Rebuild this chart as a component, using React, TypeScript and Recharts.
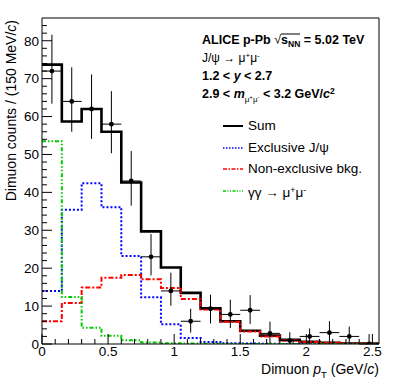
import React from 'react';
import { ComposedChart, Line, Scatter, ErrorBar, XAxis, YAxis, ReferenceLine, Legend } from 'recharts';

// bin edges (GeV/c), 150 MeV/c bins
const binEdges = [0, 0.15, 0.3, 0.45, 0.6, 0.75, 0.9, 1.05, 1.2, 1.35, 1.5, 1.65, 1.8, 1.95, 2.1, 2.25, 2.4, 2.55];
// template histograms (per bin)
const sumValues = [73.7, 58.7, 62.0, 56.0, 42.6, 29.7, 20.2, 13.5, 9.4, 6.0, 3.5, 2.2, 1.1, 0.6, 0.3, 0.15, 0.1];
const exclusiveValues = [14.0, 35.4, 42.4, 36.1, 23.2, 12.3, 5.2, 1.6, 0.5, 0.2, 0.1, 0.05, 0.03, 0.02, 0.01, 0.01, 0.01];
const nonExclusiveValues = [6.0, 10.8, 14.9, 17.5, 18.2, 17.1, 14.8, 11.9, 9.1, 5.9, 3.3, 2.0, 0.9, 0.5, 0.3, 0.15, 0.1];
const gammaGammaValues = [53.5, 12.4, 4.3, 2.2, 1.0, 0.4, 0.2, 0.1, 0.05, 0.03, 0.02, 0.01, 0.01, 0.01, 0.01, 0.01, 0.01];

// measured data points
const pointCenters = [0.075, 0.225, 0.375, 0.525, 0.675, 0.825, 0.975, 1.125, 1.275, 1.425, 1.575, 1.725, 1.875, 2.025, 2.175, 2.325, 2.475];
const pointCounts = [72, 64, 62, 58, 43, 23, 14, 6, 9.3, 7.8, 8.9, 2.8, 0.9, 2.0, 3.0, 2.0, 0];
const pointErrLow = [8.6, 8.0, 7.9, 7.7, 6.5, 4.9, 3.9, 3.0, 3.9, 3.6, 3.6, 2.6, 0.9, 2.0, 2.8, 2.0, 0];
const pointErrHigh = [9.6, 9.0, 9.1, 8.7, 7.9, 6.0, 4.8, 3.3, 3.7, 3.9, 4.0, 3.1, 2.2, 2.1, 3.0, 2.6, 2.6];
const pointHalfWidth = 0.075;

const xTicks = [0, 0.1, 0.2, 0.3, 0.4, 0.5, 0.6, 0.7, 0.8, 0.9, 1, 1.1, 1.2, 1.3, 1.4, 1.5, 1.6, 1.7, 1.8, 1.9, 2, 2.1, 2.2, 2.3, 2.4, 2.5];
const xMajorLabels = ['0', '0.5', '1', '1.5', '2', '2.5'];
const yTicks = [0, 2, 4, 6, 8, 10, 12, 14, 16, 18, 20, 22, 24, 26, 28, 30, 32, 34, 36, 38, 40, 42, 44, 46, 48, 50, 52, 54, 56, 58, 60, 62, 64, 66, 68, 70, 72, 74, 76, 78, 80, 82, 84];

// legend entries (order as in the figure)
const legendNames = ['Sum', 'Exclusive J/ψ', 'Non-exclusive bkg.', 'γγ → μ+μ-'];
const legendDashes = ['', '1.5 1.5', '4 1.5 1.5 1.5', '3 1.5 1 1.5 1 1.5'];
const legendWidths = [2, 1.5, 1.5, 1.5];

const FONT = "'Liberation Sans', Arial, Helvetica, sans-serif";

const histRows = binEdges.map((e, i) => {
  const k = Math.min(i, sumValues.length - 1);
  return {
    x: e,
    sum: sumValues[k],
    excl: exclusiveValues[k],
    nonexcl: nonExclusiveValues[k],
    gg: gammaGammaValues[k],
  };
});

const pointRows = pointCenters.map((c, i) => ({
  x: c,
  y: pointCounts[i],
  yerr: [pointErrLow[i], pointErrHigh[i]],
  xerr: pointHalfWidth,
}));

const XTick = (props: any) => {
  const { x, y, payload } = props;
  const v = payload.value as number;
  const major = Math.abs(v * 2 - Math.round(v * 2)) < 1e-6;
  const idx = Math.round(v * 2);
  return (
    <g>
      <line x1={x} x2={x} y1={y} y2={y - (major ? 10 : 5)} stroke="#000" strokeWidth={1} />
      {major && (
        <text x={x} y={y + 12} textAnchor="middle" fontSize={13.5} fontFamily={FONT} fill="#000">
          {xMajorLabels[idx]}
        </text>
      )}
    </g>
  );
};

const YTick = (props: any) => {
  const { x, y, payload } = props;
  const v = payload.value as number;
  const major = v % 10 === 0;
  return (
    <g>
      <line x1={x} x2={x + (major ? 10 : 5)} y1={y} y2={y} stroke="#000" strokeWidth={1} />
      {major && (
        <text x={x - 3} y={y + 4.8} textAnchor="end" fontSize={13.5} fontFamily={FONT} fill="#000">
          {String(v)}
        </text>
      )}
    </g>
  );
};

const PointShape = (props: any) => {
  const { cx, cy } = props;
  if (cx == null || cy == null) return null;
  return <circle cx={cx} cy={cy} r={2.4} fill="#000" />;
};

const renderLegendLabel = (name: string) => {
  if (name.includes('μ+μ-')) {
    const [pre] = name.split('μ+μ-');
    return (
      <span>
        {pre}μ<sup style={{ fontSize: '0.65em', verticalAlign: '0.45em' }}>+</sup>μ
        <sup style={{ fontSize: '0.65em', verticalAlign: '0.45em' }}>-</sup>
      </span>
    );
  }
  return <span>{name}</span>;
};

const LegendContent = (props: any) => {
  const { payload } = props;
  const entries = (payload || []).filter((e: any) => legendNames.includes(e.value));
  entries.sort((a: any, b: any) => legendNames.indexOf(a.value) - legendNames.indexOf(b.value));
  return (
    <div
      style={{
        position: 'absolute',
        left: 222,
        top: 115,
        fontFamily: FONT,
        fontSize: 13.5,
        color: '#000',
        whiteSpace: 'nowrap',
      }}
    >
      {entries.map((entry: any) => {
        const k = legendNames.indexOf(entry.value);
        return (
          <div key={entry.value} style={{ display: 'flex', alignItems: 'center', height: 21.8, lineHeight: '14px' }}>
            <svg width={22} height={8} style={{ display: 'block' }}>
              <line
                x1={1}
                x2={21}
                y1={4}
                y2={4}
                stroke={entry.color}
                strokeWidth={legendWidths[k]}
                strokeDasharray={legendDashes[k] || undefined}
              />
            </svg>
            <span style={{ marginLeft: 4 }}>{renderLegendLabel(entry.value)}</span>
          </div>
        );
      })}
    </div>
  );
};

export default function App() {
  return (
    <div style={{ position: 'absolute', left: 0, top: 0, width: 399, height: 386, background: '#fff' }}>
      <ComposedChart width={399} height={386} margin={{ top: 18, right: 20, left: 0, bottom: 0 }}>
        <XAxis
          dataKey="x"
          type="number"
          domain={[0, 2.55]}
          ticks={xTicks}
          interval={0}
          allowDataOverflow
          height={42}
          tickSize={0}
          tickMargin={0}
          tickLine={false}
          axisLine={{ stroke: '#000', strokeWidth: 1 }}
          tick={<XTick />}
        />
        <YAxis
          type="number"
          domain={[0, 86]}
          ticks={yTicks}
          interval={0}
          allowDataOverflow
          width={42}
          tickSize={0}
          tickMargin={0}
          tickLine={false}
          axisLine={{ stroke: '#000', strokeWidth: 1 }}
          tick={<YTick />}
        />
        <ReferenceLine y={86} stroke="#000" strokeWidth={1} />
        <ReferenceLine x={2.55} stroke="#000" strokeWidth={1} />
        <Line
          data={histRows}
          dataKey="sum"
          name="Sum"
          type="stepAfter"
          stroke="#000"
          strokeWidth={2.6}
          dot={false}
          activeDot={false}
          isAnimationActive={false}
        />
        <Line
          data={histRows}
          dataKey="excl"
          name="Exclusive J/ψ"
          type="stepAfter"
          stroke="#0000ff"
          strokeWidth={2}
          strokeDasharray="2 2"
          dot={false}
          activeDot={false}
          isAnimationActive={false}
        />
        <Line
          data={histRows}
          dataKey="nonexcl"
          name="Non-exclusive bkg."
          type="stepAfter"
          stroke="#ff0000"
          strokeWidth={2}
          strokeDasharray="5 2 2 2"
          dot={false}
          activeDot={false}
          isAnimationActive={false}
        />
        <Line
          data={histRows}
          dataKey="gg"
          name="γγ → μ+μ-"
          type="stepAfter"
          stroke="#00cc00"
          strokeWidth={2}
          strokeDasharray="4 2 1.5 2 1.5 2"
          dot={false}
          activeDot={false}
          isAnimationActive={false}
        />
        <Scatter
          data={pointRows}
          dataKey="y"
          name="Data"
          legendType="none"
          shape={<PointShape />}
          isAnimationActive={false}
        >
          <ErrorBar dataKey="yerr" direction="y" width={0} stroke="#000" strokeWidth={1} />
          <ErrorBar dataKey="xerr" direction="x" width={0} stroke="#000" strokeWidth={1} />
        </Scatter>
        <Legend
          layout="vertical"
          verticalAlign="middle"
          align="center"
          content={<LegendContent />}
          wrapperStyle={{ position: 'absolute', left: 0, top: 0, width: 0, height: 0 }}
        />
      </ComposedChart>
      <svg
        width={399}
        height={386}
        style={{ position: 'absolute', left: 0, top: 0, pointerEvents: 'none' }}
        fontFamily={FONT}
      >
        <text x={16} y={20} transform="rotate(-90 16 20)" textAnchor="end" fontSize={14} fill="#000">
          Dimuon counts / (150 MeV/<tspan fontStyle="italic">c</tspan>)
        </text>
        <text x={379} y={374} textAnchor="end" fontSize={14} fill="#000">
          Dimuon <tspan fontStyle="italic">p</tspan>
          <tspan fontSize={9.5} dy={4}>T</tspan>
          <tspan dy={-4}> (GeV/</tspan>
          <tspan fontStyle="italic">c</tspan>)
        </text>
        <text x={202} y={44} fontSize={12.5} fontWeight="bold" fill="#000">
          ALICE p-Pb <tspan fontWeight="normal">√</tspan>s<tspan fontSize={8.5} dy={2.5}>NN</tspan>
          <tspan dy={-2.5}> = 5.02 TeV</tspan>
        </text>
        <line x1={281} x2={300} y1={34} y2={34} stroke="#000" strokeWidth={1} />
        <text x={202} y={62} fontSize={12} fill="#000">
          J/ψ → μ<tspan fontSize={8} dy={-4}>+</tspan>
          <tspan dy={4}>μ</tspan>
          <tspan fontSize={8} dy={-4}>-</tspan>
        </text>
        <text x={202} y={80} fontSize={12.5} fontWeight="bold" fill="#000">
          1.2 &lt; <tspan fontStyle="italic">y</tspan> &lt; 2.7
        </text>
        <text x={202} y={97.5} fontSize={12.5} fontWeight="bold" fill="#000">
          2.9 &lt; <tspan fontStyle="italic">m</tspan>
          <tspan fontSize={8} fontWeight="normal" dy={4}>μ</tspan>
          <tspan fontSize={6} fontWeight="normal" dy={-3}>+</tspan>
          <tspan fontSize={8} fontWeight="normal" dy={3}>μ</tspan>
          <tspan fontSize={6} fontWeight="normal" dy={-3}>-</tspan>
          <tspan dy={-1}> &lt; 3.2 GeV/</tspan>
          <tspan fontStyle="italic">c</tspan>
          <tspan fontSize={8.5} dy={-4}>2</tspan>
        </text>
      </svg>
    </div>
  );
}
